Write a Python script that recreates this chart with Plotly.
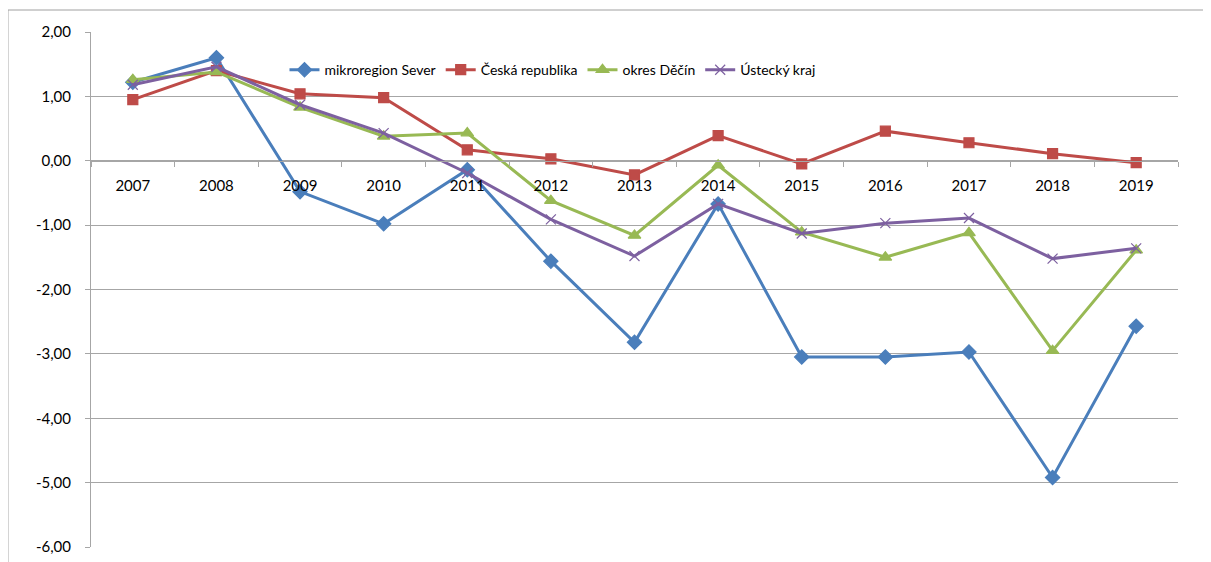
import plotly.graph_objects as go

years = ["2007", "2008", "2009", "2010", "2011", "2012", "2013",
         "2014", "2015", "2016", "2017", "2018", "2019"]

mikroregion_sever = [1.22, 1.60, -0.48, -0.98, -0.14, -1.56, -2.82,
                     -0.67, -3.05, -3.05, -2.97, -4.92, -2.57]
ceska_republika = [0.95, 1.40, 1.04, 0.98, 0.17, 0.03, -0.22,
                   0.39, -0.05, 0.46, 0.28, 0.11, -0.03]
okres_decin = [1.26, 1.38, 0.83, 0.38, 0.43, -0.62, -1.16,
               -0.07, -1.11, -1.50, -1.12, -2.95, -1.39]
ustecky_kraj = [1.18, 1.46, 0.87, 0.43, -0.19, -0.91, -1.48,
                -0.67, -1.13, -0.97, -0.89, -1.52, -1.36]

y_ticks = [2, 1, 0, -1, -2, -3, -4, -5, -6]
y_tick_labels = ["2,00", "1,00", "0,00", "-1,00", "-2,00", "-3,00",
                 "-4,00", "-5,00", "-6,00"]

_GRID = "#A6A6A6"
_FONT = "Lato, Calibri, 'Noto Sans', sans-serif"

series = [
    ("mikroregion Sever", mikroregion_sever, "#4A7EBB", "diamond", 11),
    ("Česká republika", ceska_republika, "#BE4B48", "square", 10),
    ("okres Děčín", okres_decin, "#98B954", "triangle-up", 11),
    ("Ústecký kraj", ustecky_kraj, "#7D60A0", "x-thin", 10),
]

fig = go.Figure()
for name, vals, colour, symbol, size in series:
    fig.add_trace(go.Scatter(
        x=years, y=vals, name=name,
        mode="lines+markers",
        line=dict(color=colour, width=3),
        marker=dict(symbol=symbol, size=size, color=colour,
                    line=dict(color=colour, width=1.2)),
    ))

# outer chart border (Excel chart area)
fig.add_shape(type="rect", xref="paper", yref="paper",
              x0=-0.0764, x1=1.04, y0=-0.05, y1=1.0427,
              line=dict(color="#A0A0A0", width=1), layer="below")

# the page puts the figure ~7px in from the corner, margins allow for that
fig.update_layout(
    width=1211, height=562,
    margin=dict(l=83, r=41, t=24, b=23),
    paper_bgcolor="white",
    plot_bgcolor="white",
    font=dict(family=_FONT, size=15, color="black"),
    showlegend=True,
    legend=dict(
        orientation="h",
        x=0.178, xanchor="left",
        y=0.926, yanchor="middle",
        bgcolor="rgba(0,0,0,0)",
        font=dict(size=14),
        itemwidth=30,
        tracegroupgap=0,
    ),
    xaxis=dict(
        type="category",
        range=[-0.5, 12.5],
        anchor="free",
        position=0.75,
        showgrid=False,
        showline=True,
        linecolor=_GRID,
        linewidth=1,
        ticks="outside",
        tickson="boundaries",
        ticklen=5,
        tickcolor=_GRID,
        ticklabelstandoff=11,
    ),
    yaxis=dict(
        range=[-6, 2],
        tickvals=y_ticks,
        ticktext=y_tick_labels,
        showgrid=True,
        gridcolor=_GRID,
        gridwidth=1,
        zeroline=False,
        showline=True,
        linecolor=_GRID,
        ticks="outside",
        ticklen=5,
        tickcolor=_GRID,
        ticklabelstandoff=11,
    ),
)

fig.write_html("out.html")
